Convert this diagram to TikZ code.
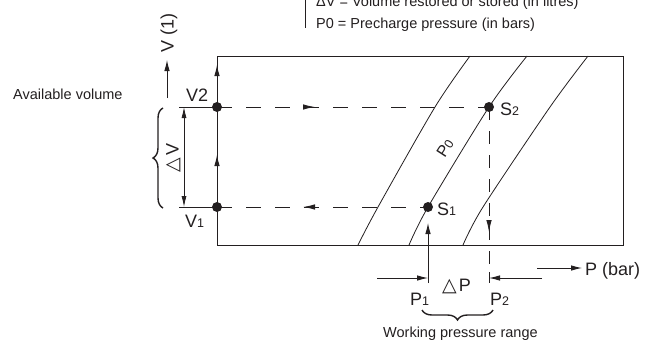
\documentclass[tikz,border=0pt]{standalone}
\usepackage{fontspec}
\setmainfont{Liberation Sans}
\newfontfamily\symf{DejaVu Sans}
\usetikzlibrary{arrows.meta,positioning,calc,decorations.pathreplacing,decorations.markings}
\definecolor{ink}{HTML}{231F20}
\newcommand{\lo}[1]{{\fontsize{12.5}{13}\selectfont #1}}
\newcommand{\tri}{{\symf\fontsize{19}{19}\selectfont △}}
\tikzset{
  frame/.style={draw=ink, line width=0.9pt},
  pcurve/.style={draw=ink, line width=0.8pt},
  dot/.style={circle, fill=ink, inner sep=0pt, minimum size=10pt},
  flow/.style={draw=ink, line width=0.9pt, -{Latex[length=11pt,width=5.5pt]}},
  flowdash/.style={draw=ink, line width=0.9pt, dash pattern=on 15pt off 14pt},
  tipat/.style={postaction={decorate, decoration={markings,
      mark=at position #1 with {\arrow{Latex[length=12pt,width=5.5pt]}}}}},
  backtipat/.style={postaction={decorate, decoration={markings,
      mark=at position #1 with {\arrowreversed{Latex[length=12pt,width=5.5pt]}}}}},
  dimline/.style={draw=ink, line width=0.8pt,
      {Latex[length=11pt,width=5pt]}-{Latex[length=11pt,width=5pt]}},
  extline/.style={draw=ink, line width=0.8pt},
  bigtxt/.style={text=ink, font=\fontsize{18}{20}\selectfont, inner sep=0pt},
  smalltxt/.style={text=ink, font=\fontsize{14.5}{17}\selectfont, inner sep=0pt},
  brc/.style={draw=ink, line width=1.4pt, decorate, decoration={brace, amplitude=10pt}}
}
\begin{document}
\begin{tikzpicture}[x=1pt,y=-1pt,color=ink]
\useasboundingbox (0,0) rectangle (655,343);

% legend
\draw[extline] (305,0) -- (305,28);
\node[smalltxt, anchor=base west] (lgdv) at (316,6) {ΔV = Volume restored or stored (in litres)};
\node[smalltxt, anchor=base west] (lgp0) at (316,28) {P0 = Precharge pressure (in bars)};

% chart frame and isotherms
\draw[frame] (217,56) rectangle (623,245);
\draw[pcurve] plot[smooth] coordinates {(358,245) (378,207) (435,107) (470,56)};
\draw[pcurve] plot[smooth] coordinates {(409,245) (428,207) (489,107) (527,56)};
\draw[pcurve] plot[smooth] coordinates {(463,245) (483,207) (550,107) (588,56)};

\node[dot] (V2) at (217,107) {};
\node[dot] (V1) at (217,207) {};
\node[dot] (S2) at (489,107) {};
\node[dot] (S1) at (428,207) {};

\coordinate (upmid) at (217,155);
\coordinate (uptop) at (217,65);
\coordinate (p2foot) at (489,283);
\coordinate (p1foot) at (428,283);
\coordinate (p1tip) at (428,223);

\draw[flow] (V1.center) -- (upmid);
\draw[flow] (V2.center) -- (uptop);
\draw[flowdash, tipat=98pt] (V2.center) -- (S2.center);
\draw[flowdash, backtipat=86pt] (V1.center) -- (S1.center);
\draw[flowdash, dash pattern=on 13pt off 11pt, tipat=125pt] (S2.center) -- (p2foot);
\draw[flow] (p1foot) -- (p1tip);

% volume side
\coordinate (vax0) at (167,98);
\coordinate (vax1) at (167,60);
\draw[flow] (vax0) -- (vax1);
\node[bigtxt, rotate=90] (vlab) at (169,33) {V (1)};
\coordinate (e2) at (179,107);
\coordinate (e1) at (179,207);
\draw[extline] (e2) -- (V2.center);
\draw[extline] (e1) -- (V1.center);
\draw[dimline] (184,107) -- (184,207);
\node[bigtxt, rotate=90] (dv) at (173.5,158) {\tri\kern3pt V};
\draw[brc] (163,208) -- (163,108);
\node[smalltxt, anchor=base west] (avail) at (13,99) {Available volume};
\node[bigtxt, anchor=base west] (v2lab) at (186,101) {V2};
\node[bigtxt, anchor=base west] (v1lab) at (185,227) {V\lo{1}};
\node[bigtxt, anchor=base west] (s2lab) at (500,115) {S\lo{2}};
\node[bigtxt, anchor=base west] (s1lab) at (437,215) {S\lo{1}};
\node[text=ink, font=\fontsize{16}{18}\selectfont, inner sep=0pt, rotate=57] (p0lab) at (445,148) {P\lo{0}};

% pressure side
\coordinate (p1in) at (377,278);
\coordinate (p1at) at (428,278);
\coordinate (p2in) at (542,278);
\coordinate (p2at) at (489,278);
\draw[flow] (p1in) -- (p1at);
\draw[flow] (p2in) -- (p2at);
\draw[extline] (489,272) -- (p2foot);
\coordinate (pax0) at (537,268);
\coordinate (pax1) at (582,268);
\draw[flow] (pax0) -- (pax1);
\node[bigtxt, anchor=base west] (pbar) at (585,275) {P (bar)};
\node[bigtxt, anchor=base west] (dp) at (442,291) {\tri\kern2pt P};
\node[bigtxt, anchor=base west] (p1lab) at (410,305) {P\lo{1}};
\node[bigtxt, anchor=base west] (p2lab) at (490,305) {P\lo{2}};
\draw[brc] (493,310) -- (422,310);
\node[smalltxt, anchor=base west] (wpr) at (383,337) {Working pressure range};
\end{tikzpicture}
\end{document}
